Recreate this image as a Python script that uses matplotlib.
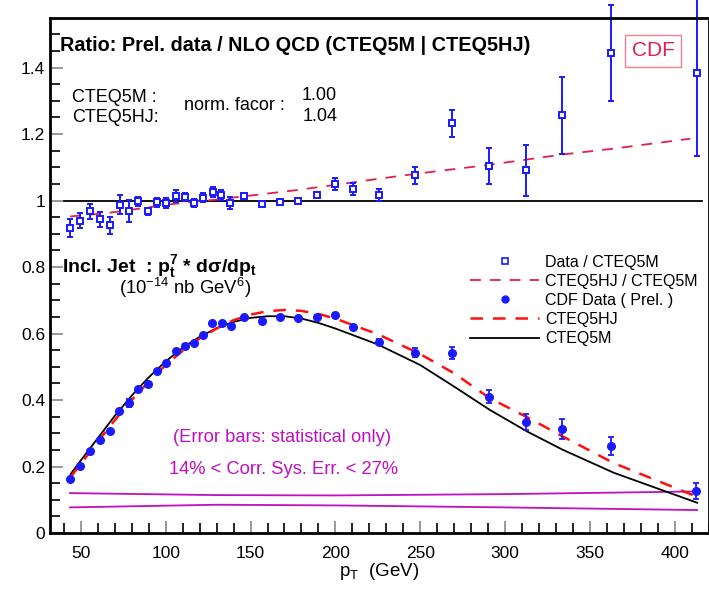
import matplotlib
matplotlib.use("Agg")
import matplotlib.pyplot as plt
from matplotlib.lines import Line2D
from matplotlib.ticker import MultipleLocator, FixedLocator
import numpy as np

plt.rcParams['font.family'] = ['Liberation Sans', 'DejaVu Sans']
plt.rcParams['mathtext.fontset'] = 'custom'
plt.rcParams['mathtext.rm'] = 'Liberation Sans'
plt.rcParams['mathtext.it'] = 'Liberation Sans:italic'
plt.rcParams['mathtext.bf'] = 'Liberation Sans:bold'

# ratio data / CTEQ5M (open squares)
pt_ratio = [43.7, 49.8, 55.5, 61.4, 67.1, 72.9, 78.4, 84.0, 89.4, 94.9, 100.4, 105.9,
            111.4, 116.9, 122.2, 127.6, 132.9, 138.2, 146.1, 156.7, 167.5, 178.2,
            189.0, 199.8, 210.4, 225.5, 247.0, 268.8, 290.4, 312.2, 333.5, 362.0, 412.8]
ratio = [0.916, 0.939, 0.967, 0.943, 0.925, 0.988, 0.968, 0.998, 0.967, 0.995, 0.993, 1.013,
         1.011, 0.992, 1.009, 1.026, 1.017, 0.994, 1.015, 0.990, 0.996, 0.999,
         1.018, 1.050, 1.035, 1.017, 1.076, 1.232, 1.104, 1.091, 1.256, 1.443, 1.383]
ratio_err = [0.027, 0.023, 0.022, 0.022, 0.025, 0.029, 0.034, 0.013, 0.012, 0.013, 0.016, 0.018,
             0.011, 0.012, 0.013, 0.014, 0.016, 0.018, 0.005, 0.004, 0.004, 0.005,
             0.008, 0.017, 0.019, 0.017, 0.026, 0.040, 0.054, 0.076, 0.117, 0.144, 0.248]

# CTEQ5HJ / CTEQ5M ratio curve
pt_rcurve = [43.7, 65, 105, 130, 150, 175, 200, 226, 250, 290, 333, 362, 409]
rcurve = [0.952, 0.962, 0.990, 1.003, 1.015, 1.030, 1.047, 1.066, 1.082, 1.107, 1.138, 1.155, 1.186]

# CDF data (filled circles), p_t^7 * dsigma/dpt
pt_data = [43.7, 49.8, 55.5, 61.4, 67.1, 72.8, 78.4, 84.0, 89.4, 94.9, 100.4, 105.9,
           111.4, 116.9, 122.2, 127.5, 133.0, 138.4, 146.0, 156.9, 167.6, 177.8,
           189.0, 199.8, 210.4, 225.5, 247.0, 268.8, 290.6, 312.2, 333.5, 362.0, 412.5]
xsec = [0.162, 0.202, 0.248, 0.279, 0.308, 0.366, 0.390, 0.433, 0.449, 0.487, 0.511, 0.546,
        0.563, 0.571, 0.595, 0.632, 0.632, 0.623, 0.649, 0.639, 0.649, 0.646,
        0.650, 0.655, 0.620, 0.575, 0.542, 0.540, 0.410, 0.335, 0.313, 0.262, 0.126]
xsec_err = [0.003, 0.003, 0.003, 0.003, 0.004, 0.005, 0.012, 0.004, 0.004, 0.004, 0.004, 0.004,
            0.004, 0.004, 0.004, 0.004, 0.004, 0.004, 0.004, 0.004, 0.004, 0.004,
            0.005, 0.006, 0.007, 0.008, 0.014, 0.018, 0.020, 0.024, 0.030, 0.027, 0.023]

# theory curves
pt_theory = [44, 50, 60, 70, 80, 90, 100, 110, 120, 130, 140, 150, 160, 170, 180, 190,
             200, 212, 225, 250, 270, 291, 313, 334, 364, 413]
cteq5m = [0.177, 0.218, 0.285, 0.352, 0.413, 0.468, 0.516, 0.557, 0.590, 0.616, 0.635, 0.647,
          0.652, 0.652, 0.645, 0.632, 0.615, 0.592, 0.567, 0.505, 0.440, 0.370, 0.305, 0.250,
          0.181, 0.091]
cteq5hj = [0.168, 0.208, 0.274, 0.339, 0.400, 0.455, 0.505, 0.548, 0.585, 0.615, 0.640, 0.657,
           0.667, 0.671, 0.668, 0.659, 0.645, 0.622, 0.598, 0.538, 0.480, 0.405, 0.348, 0.290,
           0.210, 0.109]

# correlated systematic band (magenta lines)
pt_sys = [43.7, 130, 200, 300, 413]
sys_hi = [0.120, 0.114, 0.113, 0.117, 0.125]
sys_lo = [0.077, 0.085, 0.083, 0.077, 0.069]

blue = '#1a1aff'
crimson = '#e0204e'
magenta = '#c010c0'

fig = plt.figure(figsize=(7.09, 5.92), dpi=100)
ax = fig.add_axes([50/709, 59/592, 659/709, 515/592])

ax.plot([40, 416], [1, 1], color='black', lw=1.3)
ax.plot(pt_rcurve, rcurve, color=crimson, lw=1.3, dashes=(6, 5))
ax.errorbar(pt_ratio, ratio, yerr=ratio_err, fmt='s', ms=5, mfc='white', mec=blue,
            mew=1.4, ecolor=blue, elinewidth=1.4, capsize=2.5, capthick=1.4, clip_on=False)

ax.plot(pt_sys, sys_hi, color=magenta, lw=1.3)
ax.plot(pt_sys, sys_lo, color=magenta, lw=1.3)
ax.plot(pt_theory, cteq5m, color='black', lw=1.3)
ax.plot(pt_theory, cteq5hj, color='#ff1010', lw=1.8, dashes=(5, 4))
ax.errorbar(pt_data, xsec, yerr=xsec_err, fmt='o', ms=5.5, color=blue, ecolor=blue,
            elinewidth=1.3, capsize=2.5, capthick=1.3)

ax.set_xlim(31.9, 420)
ax.set_ylim(0, 1.549)
ax.xaxis.set_major_locator(FixedLocator([50, 100, 150, 200, 250, 300, 350, 400]))
ax.xaxis.set_minor_locator(MultipleLocator(10))
ax.yaxis.set_major_locator(FixedLocator([0, 0.2, 0.4, 0.6, 0.8, 1.0, 1.2, 1.4]))
ax.yaxis.set_minor_locator(MultipleLocator(0.05))
ax.set_yticklabels(['0', '0.2', '0.4', '0.6', '0.8', '1', '1.2', '1.4'])
ax.tick_params(which='both', direction='in', labelsize=12.5, width=1.2)
ax.tick_params(which='major', length=9, color='#888888')
ax.tick_params(which='minor', length=7)
ax.tick_params(axis='x', pad=9)
for s in ax.spines.values():
    s.set_linewidth(2)

ax.set_xlabel(r'p$_\mathrm{T}$  (GeV)', fontsize=13.5, labelpad=0)

ax.text(37.8, 1.465, 'Ratio: Prel. data / NLO QCD (CTEQ5M | CTEQ5HJ)', fontsize=14.3,
        fontweight='bold', va='center')
ax.text(44.9, 1.311, 'CTEQ5M :', fontsize=13, va='center')
ax.text(44.9, 1.251, 'CTEQ5HJ:', fontsize=13, va='center')
ax.text(110.8, 1.287, 'norm. facor :', fontsize=13, va='center')
ax.text(179.8, 1.317, '1.00', fontsize=13, va='center')
ax.text(180.4, 1.254, '1.04', fontsize=13, va='center')
ax.text(387, 1.45, 'CDF', fontsize=15, color=crimson, va='center', ha='center',
        bbox=dict(boxstyle='square,pad=0.3', fc='white', ec='#f08098', lw=1))

ax.text(39, 0.785, r'Incl. Jet  : $\mathbf{p_t^7}$ * d$\mathbf{\sigma}$/d$\mathbf{p_t}$',
        fontsize=14, fontweight='bold', va='baseline')
ax.text(72.5, 0.720, r'(10$^{-14}$ nb GeV$^{6}$)', fontsize=13.3, va='baseline')

ax.text(168.6, 0.286, '(Error bars: statistical only)', fontsize=13.2, color=magenta,
        ha='center', va='center')
ax.text(169.2, 0.19, '14% < Corr. Sys. Err. < 27%', fontsize=13.2, color=magenta,
        ha='center', va='center')

handles = [
    Line2D([], [], ls='none', marker='s', ms=4.5, mfc='white', mec=blue, mew=1.2),
    Line2D([], [], color=crimson, lw=1.3, dashes=(6, 5)),
    Line2D([], [], ls='none', marker='o', ms=5, color=blue),
    Line2D([], [], color='#ff1010', lw=1.8, dashes=(5, 4)),
    Line2D([], [], color='black', lw=1.3),
]
labels = ['Data / CTEQ5M', 'CTEQ5HJ / CTEQ5M', 'CDF Data ( Prel. )', 'CTEQ5HJ', 'CTEQ5M']
leg = ax.legend(handles, labels, loc='upper left', bbox_to_anchor=(0.628, 0.553),
                frameon=False, fontsize=11.5, handlelength=4.3, handletextpad=0.4,
                labelspacing=0.26, borderaxespad=0)

fig.savefig('out.png', dpi=100)
